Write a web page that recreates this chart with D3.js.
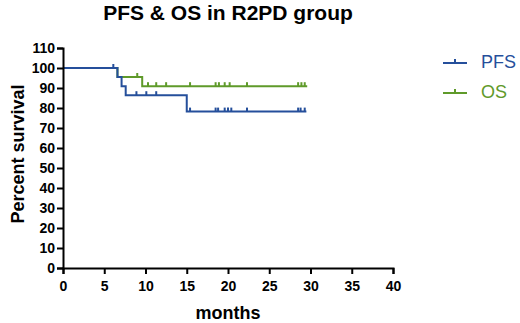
<!DOCTYPE html>
<html>
<head>
<meta charset="utf-8">
<script src="https://cdn.jsdelivr.net/npm/d3@7"></script>
<style>
  body { margin: 0; background: #fff; }
  text { font-family: 'Liberation Sans', Arial, sans-serif; }
</style>
</head>
<body>
<svg id="chart"></svg>
<script>
/* global d3 */

const svgWidth = 520
const svgHeight = 323
const margin = { top: 48, right: 127, bottom: 55, left: 63 }
const width = svgWidth - margin.left - margin.right
const height = svgHeight - margin.top - margin.bottom

// Step points (time in months, percent survival)
const pfsTimes = [0, 6.6, 7.1, 7.6, 15.0]
const pfsSurv = [100, 95.5, 90.9, 86.4, 78.2]
const pfsEnd = 29.5
const pfsCensor = [6.1, 8.9, 10.1, 11.3, 15.4, 18.5, 18.8, 19.6, 20.0, 20.4, 22.3, 28.5, 28.8, 29.3]

const osTimes = [0, 6.6, 9.6]
const osSurv = [100, 95.5, 90.9]
const osEnd = 29.6
const osCensor = [9.0, 10.3, 11.3, 12.5, 15.4, 18.5, 18.9, 19.6, 20.2, 22.3, 28.5, 28.9, 29.3]

const xTicks = [0, 5, 10, 15, 20, 25, 30, 35, 40]
const yTicks = [0, 10, 20, 30, 40, 50, 60, 70, 80, 90, 100, 110]

const blue = '#254f9b'
const green = '#5f9a2a'

const svg = d3.select('#chart')
  .attr('width', svgWidth)
  .attr('height', svgHeight)

const g = svg.append('g')
  .attr('transform', `translate(${margin.left}, ${margin.top})`)

const x = d3.scaleLinear().domain([0, 40]).range([0, width])
const y = d3.scaleLinear().domain([0, 110]).range([height, 0])

// Build curve points from step arrays
function stepPoints (times, surv, end) {
  const pts = times.map((t, i) => [t, surv[i]])
  pts.push([end, surv[surv.length - 1]])
  return pts
}
function survAt (times, surv, t) {
  let s = surv[0]
  times.forEach((tt, i) => { if (tt <= t) s = surv[i] })
  return s
}

const line = d3.line()
  .x(d => x(d[0]))
  .y(d => y(d[1]))
  .curve(d3.curveStepAfter)

const series = [
  { name: 'OS', color: green, times: osTimes, surv: osSurv, end: osEnd, censor: osCensor },
  { name: 'PFS', color: blue, times: pfsTimes, surv: pfsSurv, end: pfsEnd, censor: pfsCensor }
]

series.forEach(s => {
  g.append('path')
    .datum(stepPoints(s.times, s.surv, s.end))
    .attr('fill', 'none')
    .attr('stroke', s.color)
    .attr('stroke-width', 2)
    .attr('d', line)

  g.selectAll(null)
    .data(s.censor)
    .enter()
    .append('line')
    .attr('x1', d => x(d))
    .attr('x2', d => x(d))
    .attr('y1', d => y(survAt(s.times, s.surv, d)))
    .attr('y2', d => y(survAt(s.times, s.surv, d)) - 4)
    .attr('stroke', s.color)
    .attr('stroke-width', 2)
})

// Axes
const xAxis = d3.axisBottom(x).tickValues(xTicks).tickSize(6).tickPadding(4)
const yAxis = d3.axisLeft(y).tickValues(yTicks).tickSize(6).tickPadding(2)

const xg = g.append('g')
  .attr('transform', `translate(0, ${height})`)
  .call(xAxis)
const yg = g.append('g').call(yAxis)

;[xg, yg].forEach(ax => {
  ax.select('.domain').attr('stroke', '#000').attr('stroke-width', 2)
  ax.selectAll('.tick line').attr('stroke', '#000').attr('stroke-width', 2)
  ax.selectAll('.tick text')
    .attr('fill', '#000')
    .style('font-size', '14px')
    .style('font-weight', 'bold')
})
xg.selectAll('.tick text').attr('dy', '0.95em')
yg.selectAll('.tick text').attr('dy', '0.35em')

// Titles
svg.append('text')
  .attr('x', 228)
  .attr('y', 20)
  .attr('text-anchor', 'middle')
  .style('font-size', '21px')
  .style('font-weight', 'bold')
  .text('PFS & OS in R2PD group')

svg.append('text')
  .attr('x', margin.left + width / 2)
  .attr('y', 319)
  .attr('text-anchor', 'middle')
  .style('font-size', '18px')
  .style('font-weight', 'bold')
  .text('months')

svg.append('text')
  .attr('transform', `translate(24, ${margin.top + height / 2 - 4}) rotate(-90)`)
  .attr('text-anchor', 'middle')
  .style('font-size', '18px')
  .style('font-weight', 'bold')
  .text('Percent survival')

// Legend
const legendItems = [
  { name: 'PFS', color: blue },
  { name: 'OS', color: green }
]
const legend = svg.append('g').attr('transform', 'translate(443, 63)')
legendItems.forEach((d, i) => {
  const row = legend.append('g').attr('transform', `translate(0, ${i * 30})`)
  row.append('line')
    .attr('x1', 0).attr('x2', 24)
    .attr('y1', 0).attr('y2', 0)
    .attr('stroke', d.color).attr('stroke-width', 2)
  row.append('line')
    .attr('x1', 12).attr('x2', 12)
    .attr('y1', 0).attr('y2', -4)
    .attr('stroke', d.color).attr('stroke-width', 2)
  row.append('text')
    .attr('x', 38)
    .attr('y', -1)
    .attr('dy', '0.35em')
    .attr('fill', d.color)
    .style('font-size', '18px')
    .text(d.name)
})
</script>
</body>
</html>
